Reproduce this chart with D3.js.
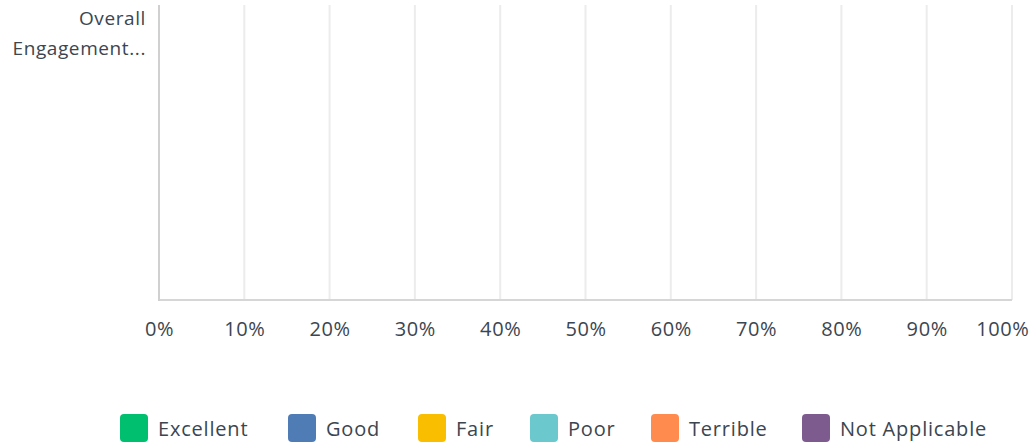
<!DOCTYPE html>
<html>
<head>
<meta charset="utf-8">
<script src="https://cdn.jsdelivr.net/npm/d3@7"></script>
<style>
  html, body { margin: 0; padding: 0; background: #ffffff; }
  svg { display: block; }
  text { font-family: "Open Sans", "Noto Sans", sans-serif; fill: #3b4650; }
</style>
</head>
<body>
<svg id="chart" width="1033" height="447"></svg>
<script>
// Question rows and answer options
const categories = ["Overall Engagement..."];
const categoryLines = [["Overall", "Engagement..."]];
const seriesNames = ["Excellent", "Good", "Fair", "Poor", "Terrible", "Not Applicable"];
const seriesColors = ["#00bf6f", "#507cb6", "#f9be00", "#6bc8cd", "#ff8b4f", "#7d5b8f"];
// Share of responses (percent) per answer option; no responses recorded
const excellentValues = [0];
const goodValues = [0];
const fairValues = [0];
const poorValues = [0];
const terribleValues = [0];
const notApplicableValues = [0];
const tickValues = [0, 10, 20, 30, 40, 50, 60, 70, 80, 90, 100];
const tickLabels = ["0%", "10%", "20%", "30%", "40%", "50%", "60%", "70%", "80%", "90%", "100%"];

const seriesValues = [excellentValues, goodValues, fairValues, poorValues, terribleValues, notApplicableValues];

const svg = d3.select("#chart");
const margin = { left: 159, right: 21, top: 5, bottom: 147 };
const W = 1033, H = 447;

const x = d3.scaleLinear().domain([0, 100]).range([margin.left, W - margin.right]);
const y = d3.scaleBand().domain(categories).range([margin.top, H - margin.bottom]).padding(0);

// Vertical gridlines
svg.append("g")
  .selectAll("line")
  .data(tickValues.slice(1))
  .join("line")
  .attr("x1", d => x(d)).attr("x2", d => x(d))
  .attr("y1", margin.top).attr("y2", H - margin.bottom)
  .attr("stroke", "#ececec").attr("stroke-width", 2);

// Stacked bars
const stackedRows = categories.map((c, i) => {
  let acc = 0;
  return seriesValues.map((vals, s) => {
    const seg = { cat: c, s, x0: acc, x1: acc + vals[i] };
    acc += vals[i];
    return seg;
  });
}).flat();

svg.append("g")
  .selectAll("rect")
  .data(stackedRows)
  .join("rect")
  .attr("x", d => x(d.x0))
  .attr("width", d => x(d.x1) - x(d.x0))
  .attr("y", d => y(d.cat) + y.bandwidth() * 0.1)
  .attr("height", y.bandwidth() * 0.8)
  .attr("fill", d => seriesColors[d.s]);

// Axis lines
svg.append("line")
  .attr("x1", margin.left).attr("x2", W - margin.right)
  .attr("y1", H - margin.bottom).attr("y2", H - margin.bottom)
  .attr("stroke", "#d6d6d6").attr("stroke-width", 2);
svg.append("line")
  .attr("x1", margin.left).attr("x2", margin.left)
  .attr("y1", margin.top).attr("y2", H - margin.bottom + 1)
  .attr("stroke", "#d0d0d0").attr("stroke-width", 2);

// X tick labels
const xAxis = d3.axisBottom(x).tickValues(tickValues).tickFormat((d, i) => tickLabels[i]).tickSize(0).tickPadding(0);
const gx = svg.append("g").attr("transform", `translate(0,${H - margin.bottom})`).call(xAxis);
gx.select(".domain").remove();
gx.selectAll("text")
  .attr("y", 36).attr("dy", 0)
  .style("font-size", "20px")
  .style("letter-spacing", "0.6px")
  .style("font-family", "'Open Sans', 'Noto Sans', sans-serif")
  .attr("fill", "#3b4650");
// Keep the last label inside the window
gx.selectAll(".tick").filter(d => d === 100).select("text")
  .attr("text-anchor", "end").attr("x", W - 4 - x(100));

// Category labels
categories.forEach((c, i) => {
  const t = svg.append("text")
    .attr("x", margin.left - 13)
    .attr("y", y(c) + 20)
    .attr("text-anchor", "end")
    .style("font-size", "19px")
    .style("letter-spacing", "0.6px");
  categoryLines[i].forEach((line, k) => {
    t.append("tspan").attr("x", margin.left - 13).attr("dy", k === 0 ? 0 : 30).text(line);
  });
});

// Legend
const legendX = [120, 288, 418, 530, 651, 802];
const legend = svg.append("g").attr("transform", "translate(0,414)");
const items = legend.selectAll("g").data(seriesNames).join("g")
  .attr("transform", (d, i) => `translate(${legendX[i]},0)`);
items.append("rect")
  .attr("width", 28).attr("height", 28).attr("rx", 4)
  .attr("fill", (d, i) => seriesColors[i]);
items.append("text")
  .attr("x", 38).attr("y", 22)
  .style("font-size", "20px")
  .style("letter-spacing", "0.8px")
  .text(d => d);
</script>
</body>
</html>
